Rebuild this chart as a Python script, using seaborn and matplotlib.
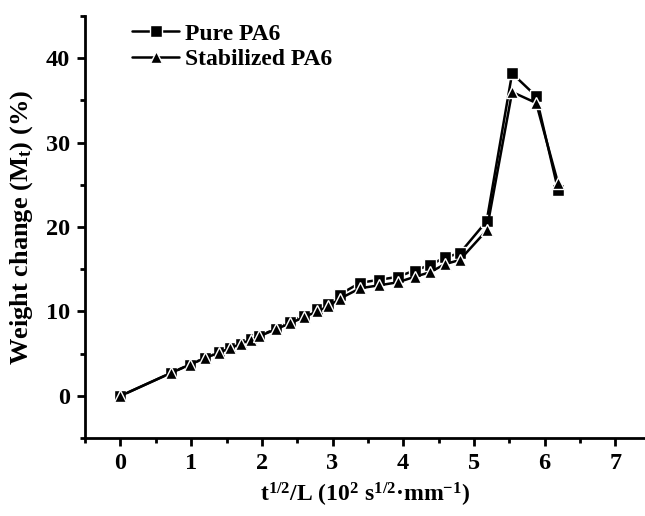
import pandas as pd
import seaborn as sns
import matplotlib.pyplot as plt
from matplotlib.ticker import MultipleLocator

sns.set_style("ticks")
plt.rcParams['font.family'] = ['Liberation Serif', 'DejaVu Serif']
plt.rcParams['font.weight'] = 'bold'
plt.rcParams['mathtext.fontset'] = 'custom'
plt.rcParams['mathtext.rm'] = 'Liberation Serif:bold'
plt.rcParams['mathtext.it'] = 'Liberation Serif:bold'
plt.rcParams['mathtext.bf'] = 'Liberation Serif:bold'
for k in ['text.color', 'axes.labelcolor', 'xtick.color', 'ytick.color', 'axes.edgecolor']:
    plt.rcParams[k] = 'black'

# Dados
x_vals = [0, 0.71, 0.98, 1.20, 1.39, 1.55, 1.70, 1.84, 1.96, 2.20, 2.40, 2.59,
          2.78, 2.94, 3.10, 3.39, 3.66, 3.92, 4.16, 4.38, 4.59, 4.80, 5.18,
          5.54, 5.88, 6.19]
pure_pa6 = [0, 2.7, 3.7, 4.5, 5.15, 5.7, 6.2, 6.7, 7.1, 7.95, 8.75, 9.5,
            10.3, 10.9, 12.0, 13.4, 13.75, 14.1, 14.85, 15.5, 16.4, 16.9, 20.7,
            38.2, 35.5, 24.4]
stab_pa6 = [0, 2.7, 3.7, 4.5, 5.1, 5.65, 6.15, 6.65, 7.05, 7.9, 8.6, 9.3,
            10.0, 10.6, 11.5, 12.75, 13.1, 13.45, 14.1, 14.65, 15.6, 16.1, 19.6,
            36.0, 34.7, 25.2]
labels = ["Pure PA6", "Stabilized PA6"]

fig = plt.figure(figsize=(6.45, 5.16), dpi=100)
ax = fig.add_axes([0.132, 0.151, 0.868, 0.818])

sns.lineplot(x=x_vals, y=pure_pa6, color="black", marker="s", markersize=8.5,
             linewidth=1.8, markeredgecolor="white", markeredgewidth=1.0,
             label=labels[0], ax=ax)
sns.lineplot(x=x_vals, y=stab_pa6, color="black", marker="^", markersize=9,
             linewidth=1.8, markeredgecolor="white", markeredgewidth=1.0,
             label=labels[1], ax=ax)

ax.set_xlim(-0.5, 7.42)
ax.set_ylim(-5, 45)
ax.xaxis.set_major_locator(MultipleLocator(1))
ax.xaxis.set_minor_locator(MultipleLocator(0.5))
ax.yaxis.set_major_locator(MultipleLocator(10))
ax.yaxis.set_minor_locator(MultipleLocator(5))
ax.tick_params(which="major", direction="out", length=6, width=2, labelsize=17.5, pad=5)
ax.tick_params(which="minor", direction="out", length=3.5, width=2)
sns.despine(ax=ax)
for s in ["left", "bottom"]:
    ax.spines[s].set_linewidth(2)

ax.set_xlabel("t$^{1/2}$/L (10$^2$ s$^{1/2}$·mm$^{-1}$)", fontsize=17, fontweight="bold",
              labelpad=5)
ax.set_ylabel("Weight change (M$_t$) (%)", fontsize=19, fontweight="bold", labelpad=8)

ax.legend(loc="upper left", bbox_to_anchor=(0.205, 0.955), bbox_transform=fig.transFigure,
          frameon=False, fontsize=17, handlelength=2.0, handletextpad=0.25,
          labelspacing=0.15, borderpad=0, borderaxespad=0)

fig.savefig("out.png", dpi=100)
